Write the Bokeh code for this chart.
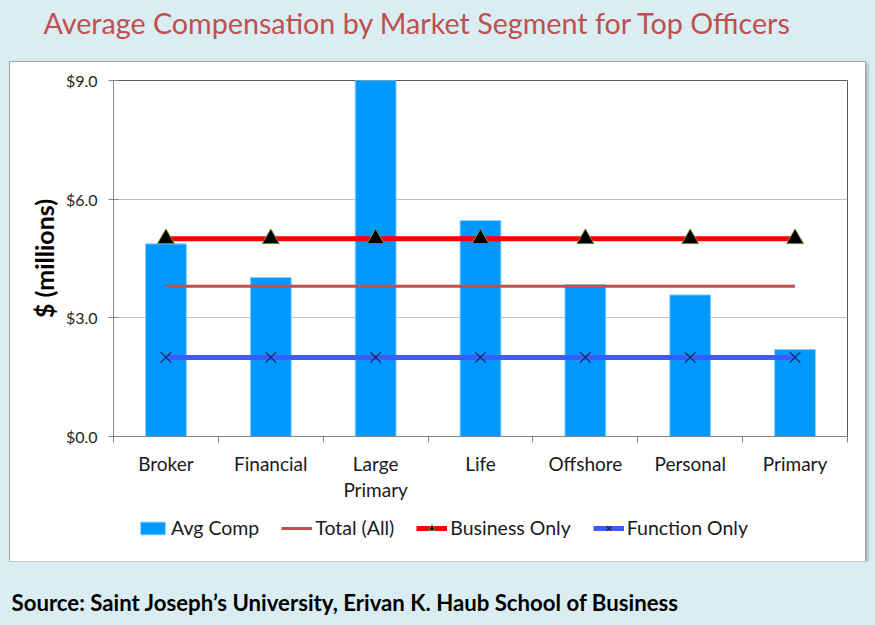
from bokeh.plotting import figure
from bokeh.layouts import column, row
from bokeh.models import (Range1d, FixedTicker, PrintfTickFormatter, Legend, LegendItem,
                          Label, ColumnDataSource, Spacer)
from bokeh.embed import file_html
from bokeh.resources import INLINE

# ---------------- data ----------------
categories = ["Broker", "Financial", "Large Primary", "Life", "Offshore", "Personal", "Primary"]
tick_labels = ["Broker", "Financial", "Large\nPrimary", "Life", "Offshore", "Personal", "Primary"]
avg_comp = [4.87, 4.02, 9.0, 5.46, 3.84, 3.58, 2.20]
total_all = [3.8, 3.8, 3.8, 3.8, 3.8, 3.8, 3.8]
business_only = [5.0, 5.0, 5.0, 5.0, 5.0, 5.0, 5.0]
function_only = [2.0, 2.0, 2.0, 2.0, 2.0, 2.0, 2.0]
y_ticks = [0, 3, 6, 9]
series_names = ["Avg Comp", "Total (All)", "Business Only", "Function Only"]

title_text = "Average Compensation by Market Segment for Top Officers"
source_text = "Source: Saint Joseph\u2019s University, Erivan K. Haub School of Business"

# ---------------- styling ----------------
BG = "#DAEDF3"
FONT = "Lato"
PAGE_W, PAGE_H = 875, 625
PANEL_L, PANEL_T, PANEL_R, PANEL_B = 10, 62, 865, 561
CHART_B = 505          # where the legend strip starts inside the white panel
PANEL_W = PANEL_R - PANEL_L
ML, MR, MT = 103, 18, 18

BAR = dict(fill_color="#0099FF", line_color="#8fd3ff", line_width=1)
TOTAL = dict(line_color="#C0504D", line_width=3)
BUS_L = dict(line_color="#FF0000", line_width=5)
BUS_M = dict(marker="triangle", size=17, fill_color="black", line_color="#76923C", line_width=1)
FUN_L = dict(line_color="#3B5BFF", line_width=5)
FUN_M = dict(marker="x", size=15, line_color="#1F2050", line_width=1.2)


def blank_fig(w, h, fill, **kw):
    f = figure(width=w, height=h, x_range=Range1d(0, w), y_range=Range1d(h, 0),
               title=None, output_backend="svg", toolbar_location=None,
               background_fill_color=fill, border_fill_color=fill,
               outline_line_color=None, **kw)
    f.axis.visible = False
    f.grid.visible = False
    return f


# title strip
title_fig = blank_fig(PAGE_W, PANEL_T, BG, min_border=0)
title_fig.add_layout(Label(x=43, y=22, text=title_text, text_font=FONT,
                           text_font_size="28.7px", text_color="#C0504D",
                           text_baseline="alphabetic"))
# source strip
source_fig = blank_fig(PAGE_W, PAGE_H - PANEL_B, BG, min_border=0)
source_fig.add_layout(Label(x=11, y=602 - PANEL_B, text=source_text, text_font=FONT,
                            text_font_size="22.2px", text_font_style="bold",
                            text_color="black", text_baseline="alphabetic"))

# ---------------- main chart ----------------
xs = [i + 0.5 for i in range(len(categories))]
src = ColumnDataSource(dict(x=xs, cat=categories, avg=avg_comp, total=total_all,
                            bus=business_only, fun=function_only))

p = figure(width=PANEL_W, height=CHART_B - PANEL_T,
           x_range=Range1d(0, 7), y_range=Range1d(0, 9), title=None,
           output_backend="svg", toolbar_location=None,
           min_border_left=ML, min_border_right=MR, min_border_top=MT,
           min_border_bottom=CHART_B - 436,
           background_fill_color="white", border_fill_color="white",
           outline_line_color="#595959", outline_line_width=1)

p.xgrid.visible = False
p.ygrid.grid_line_color = "#BFBFBF"
p.ygrid.grid_line_width = 1

p.yaxis.ticker = FixedTicker(ticks=y_ticks)
p.yaxis.formatter = PrintfTickFormatter(format="$%.1f")
p.yaxis.axis_line_color = "#868686"
p.yaxis.major_tick_line_color = "#868686"
p.yaxis.major_tick_out = 5
p.yaxis.major_tick_in = 5
p.yaxis.minor_tick_line_color = None
p.yaxis.major_label_text_font = FONT
p.yaxis.major_label_text_font_size = "16px"
p.yaxis.major_label_text_color = "#262626"
p.yaxis.major_label_standoff = 11
p.yaxis.axis_label = "$ (millions)"
p.yaxis.axis_label_text_font = FONT
p.yaxis.axis_label_text_font_size = "25px"
p.yaxis.axis_label_text_font_style = "bold"
p.yaxis.axis_label_text_color = "black"
p.yaxis.axis_label_standoff = 4

p.xaxis.ticker = FixedTicker(ticks=xs, minor_ticks=[0, 1, 2, 3, 4, 5, 6, 7])
p.xaxis.major_label_overrides = {x: lab for x, lab in zip(xs, tick_labels)}
p.xaxis.axis_line_color = "#868686"
p.xaxis.major_tick_line_color = None
p.xaxis.major_tick_out = 0
p.xaxis.major_tick_in = 0
p.xaxis.minor_tick_line_color = "#868686"
p.xaxis.minor_tick_out = 6
p.xaxis.minor_tick_in = 0
p.xaxis.major_label_text_font = FONT
p.xaxis.major_label_text_font_size = "19px"
p.xaxis.major_label_text_color = "#1a1a1a"
p.xaxis.major_label_text_line_height = 1.15
p.xaxis.major_label_standoff = 9

p.vbar(x="x", top="avg", width=0.39, source=src, **BAR)
p.line(x="x", y="total", source=src, **TOTAL)
p.line(x="x", y="bus", source=src, **BUS_L)
p.scatter(x="x", y="bus", source=src, **BUS_M)
p.line(x="x", y="fun", source=src, **FUN_L)
p.scatter(x="x", y="fun", source=src, **FUN_M)

# ---------------- legend strip (inside the white panel) ----------------
# hidden copies of the series give the legend its glyph icons
lf = blank_fig(PANEL_W, PANEL_B - CHART_B, "white",
               min_border_left=ML, min_border_right=MR, min_border_top=0, min_border_bottom=0)
r_bar = lf.vbar(x="x", top="avg", width=0.39, source=src, visible=False, **BAR)
r_tot = lf.line(x="x", y="total", source=src, visible=False, **TOTAL)
r_bl = lf.line(x="x", y="bus", source=src, visible=False, **BUS_L)
r_bm = lf.scatter(x="x", y="bus", source=src, visible=False, **BUS_M)
r_fl = lf.line(x="x", y="fun", source=src, visible=False, **FUN_L)
r_fm = lf.scatter(x="x", y="fun", source=src, visible=False, **FUN_M)

legend = Legend(items=[
    LegendItem(label=series_names[0], renderers=[r_bar]),
    LegendItem(label=series_names[1], renderers=[r_tot]),
    LegendItem(label=series_names[2], renderers=[r_bl, r_bm]),
    LegendItem(label=series_names[3], renderers=[r_fl, r_fm]),
], orientation="horizontal", location=(137 - PANEL_L - ML, PANEL_B - 539))
legend.border_line_color = None
legend.background_fill_alpha = 0
legend.label_text_font = FONT
legend.label_text_font_size = "19.5px"
legend.label_text_color = "#1a1a1a"
legend.glyph_width = 31
legend.glyph_height = 16
legend.label_standoff = 3
legend.spacing = 22
legend.padding = 0
legend.margin = 0
legend.click_policy = "none"
lf.add_layout(legend)

panel = column(p, lf, styles={"background-color": "white",
                              "box-shadow": "0 0 0 1px #a6a6a6, 2px 2px 3px 1px #9fb3ba"})
layout = column(title_fig, row(Spacer(width=PANEL_L, height=10), panel), source_fig)

html = file_html(layout, INLINE)
html = html.replace("<head>", "<head><style>body{background:%s;margin:0;}</style>" % BG, 1)
open("out.html", "w").write(html)
